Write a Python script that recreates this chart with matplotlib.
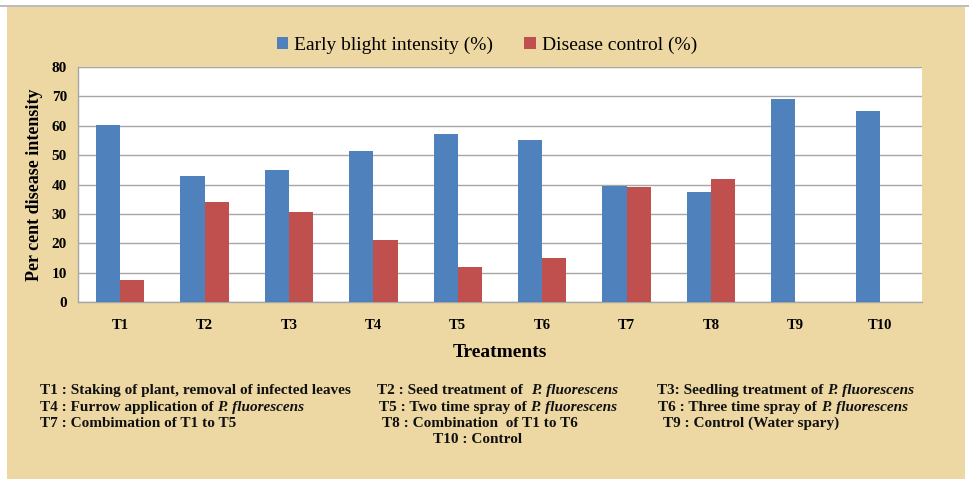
import matplotlib
matplotlib.use("Agg")
import matplotlib.pyplot as plt
import numpy as np
from matplotlib.patches import Rectangle

categories = ["T1", "T2", "T3", "T4", "T5", "T6", "T7", "T8", "T9", "T10"]
intensity = [60.3, 43.0, 45.1, 51.4, 57.1, 55.3, 39.5, 37.5, 69.0, 65.1]
control = [7.5, 33.9, 30.5, 21.0, 12.0, 14.9, 39.2, 41.9, 0, 0]
series_names = ["Early blight intensity (%)", "Disease control (%)"]
yticks = [0, 10, 20, 30, 40, 50, 60, 70, 80]

BLUE = "#4F81BD"
RED = "#C0504D"
BG = "#EDD8A3"
SERIF = ["Liberation Serif", "DejaVu Serif"]

W, H = 970, 479
fig = plt.figure(figsize=(9.7, 4.79), dpi=100)
fig.patch.set_facecolor("white")

# parchment background in its own axes beneath everything
bgax = fig.add_axes([0, 0, 1, 1], zorder=-10)
bgax.set_xlim(0, W)
bgax.set_ylim(H, 0)
bgax.axis("off")
bgax.add_patch(Rectangle((7, 7), 965 - 7, H - 7, facecolor=BG, edgecolor="none"))
bgax.plot([0, W], [6, 6], color="#B0B0B0", lw=1.2)

x0, x1, ytop, ybot = 78, 922, 67, 302
ax = fig.add_axes([x0 / W, 1 - ybot / H, (x1 - x0) / W, (ybot - ytop) / H], zorder=1)
ax.set_facecolor("white")

x = np.arange(len(categories))
bw = 1 / 3.5
ax.bar(x - bw / 2, intensity, bw, color=BLUE, label=series_names[0], zorder=3)
ax.bar(x + bw / 2, control, bw, color=RED, label=series_names[1], zorder=3)

ax.set_xlim(-0.5, len(categories) - 0.5)
ax.set_ylim(0, 80)
ax.set_yticks(yticks)
ax.set_yticklabels([str(v) for v in yticks], fontfamily=SERIF, fontweight="bold", fontsize=11)
ax.set_xticks(x)
ax.set_xticklabels(categories, fontfamily=SERIF, fontweight="bold", fontsize=10.5)
ax.tick_params(axis="both", length=0)
ax.tick_params(axis="x", pad=12)
ax.tick_params(axis="y", pad=8)
ax.yaxis.grid(True, color="#A6A6A6", lw=1.0, zorder=0)
ax.set_axisbelow(True)
for s in ["top", "right"]:
    ax.spines[s].set_visible(False)
for s in ["left", "bottom"]:
    ax.spines[s].set_color("#A6A6A6")
    ax.spines[s].set_linewidth(1.0)

ax.set_ylabel("Per cent disease intensity", fontfamily=SERIF, fontweight="bold",
              fontsize=13, labelpad=6)
ax.set_xlabel("Treatments", fontfamily=SERIF, fontweight="bold", fontsize=14, labelpad=9)

fig.legend(loc="center", bbox_to_anchor=(487 / W, 1 - 45 / H), ncol=2, frameon=False,
           prop={"family": SERIF, "size": 14}, handlelength=0.6, handleheight=0.6,
           handletextpad=0.3, columnspacing=1.6)

texts = [
    (40, 394, [("T1 : Staking of plant, removal of infected leaves", "normal")]),
    (377, 394, [("T2 : Seed treatment of  ", "normal"), ("P. fluorescens", "italic")]),
    (657, 394, [("T3: Seedling treatment of ", "normal"), ("P. fluorescens", "italic")]),
    (40, 411, [("T4 : Furrow application of ", "normal"), ("P. fluorescens", "italic")]),
    (379, 411, [("T5 : Two time spray of ", "normal"), ("P. fluorescens", "italic")]),
    (658, 411, [("T6 : Three time spray of ", "normal"), ("P. fluorescens", "italic")]),
    (40, 427, [("T7 : Combimation of T1 to T5", "normal")]),
    (382, 427, [("T8 : Combination  of T1 to T6", "normal")]),
    (663, 427, [("T9 : Control (Water spary)", "normal")]),
    (433, 443, [("T10 : Control", "normal")]),
]
kw0 = dict(fontfamily=SERIF, fontweight="bold", fontsize=11, color="#111111",
           va="baseline", ha="left")
chained = []
for xp, yp, parts in texts:
    prev = fig.text(xp / W, 1 - yp / H, parts[0][0], fontstyle=parts[0][1], **kw0)
    for txt, style in parts[1:]:
        t = fig.text(0, 1 - yp / H, txt, fontstyle=style, **kw0)
        chained.append((t, prev))
        prev = t

fig.canvas.draw()
r = fig.canvas.get_renderer()
for t, p in chained:
    bb = p.get_window_extent(r)
    t.set_x(bb.x1 / W)

fig.savefig("out.png", dpi=100, facecolor=fig.get_facecolor())
